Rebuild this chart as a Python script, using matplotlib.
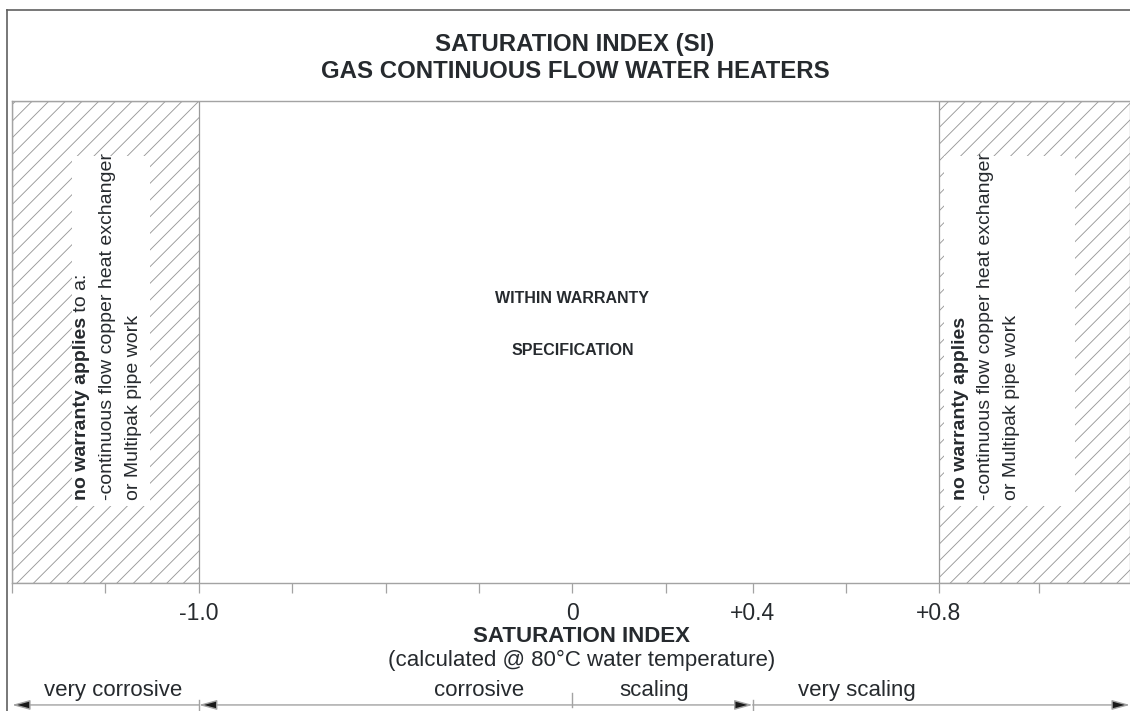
import numpy as np
import matplotlib
matplotlib.use('Agg')
import matplotlib.pyplot as plt
from matplotlib.patches import Rectangle
from matplotlib.lines import Line2D

plt.rcParams['font.family'] = ['Liberation Sans', 'DejaVu Sans']
plt.rcParams['hatch.linewidth'] = 0.65

# saturation index ticks along the axis
tick_values = [-1.5, -1.25, -1.0, -0.75, -0.5, -0.25, 0.0, 0.2, 0.4, 0.6, 0.8, 1.0]
tick_labels = ['', '', '-1.0', '', '', '', '0', '', '+0.4', '', '+0.8', '']
si_min, si_max = -1.5, 1.18

# no warranty bands
band_low = (-1.5, -1.0)
band_high = (0.8, 1.18)

# zones along the bottom
zone_names = ['very corrosive', 'corrosive', 'scaling', 'very scaling']
zone_centers = [-1.23, -0.25, 0.175, 0.625]

# the drawing is schematic, not to scale: piecewise linear axis
si_bp = [-1.5, -1.0, 0.0, 0.2, 0.4, 0.8, 1.0, 1.18]
pos_bp = [0.0, 2.0, 6.0, 7.0, 7.93, 9.92, 11.0, 11.97]

def fwd(x):
    return np.interp(x, si_bp, pos_bp)

def inv(x):
    return np.interp(x, pos_bp, si_bp)

line_c = '#a3a3a3'
text_c = '#262a2e'

fig = plt.figure(figsize=(11.3, 7.11), dpi=100)
ax = fig.add_axes([12/1130, 1-583/711, 1118/1130, 482/711])
ax.set_xscale('function', functions=(fwd, inv))
ax.set_xlim(si_min, si_max)
ax.set_ylim(0, 1)

for s in ['top', 'bottom', 'left']:
    ax.spines[s].set_color(line_c)
    ax.spines[s].set_linewidth(1.0)
ax.spines['right'].set_visible(False)
ax.set_yticks([])
ax.set_xticks(tick_values)
ax.set_xticklabels(tick_labels)
ax.tick_params(axis='x', direction='out', length=7.5, width=0.9, color=line_c,
               labelsize=16.5, labelcolor=text_c, pad=6)

# hatched no-warranty bands
for lo, hi in [band_low, band_high]:
    ax.axvspan(lo, hi, facecolor='none', edgecolor='#9a9a9a', hatch='//', linewidth=0.9)

xt = ax.get_xaxis_transform()

# white boxes behind the rotated notes
ax.add_patch(Rectangle((-1.34, 0.16), 0.21, 0.725, transform=xt,
                       facecolor='white', edgecolor='none', zorder=2))
ax.add_patch(Rectangle((0.81, 0.16), 0.26, 0.725, transform=xt,
                       facecolor='white', edgecolor='none', zorder=2))

note_lines = ['-continuous flow copper heat exchanger', 'or Multipak pipe work']
fs_note = 14

def note(x0, dx, bold_tail):
    t = ax.text(x0, 0.172, 'no warranty applies', transform=xt, rotation=90,
                rotation_mode='anchor', ha='left', va='center', fontsize=fs_note,
                fontweight='bold', color=text_c, zorder=3)
    if bold_tail:
        ax.annotate(' to a:', xy=(0.5, 1.0), xycoords=t, rotation=90,
                    ha='center', va='bottom', fontsize=fs_note, color=text_c, zorder=3)
    for i, s in enumerate(note_lines):
        ax.text(x0 + dx*(i+1), 0.172, s, transform=xt, rotation=90,
                rotation_mode='anchor', ha='left', va='center', fontsize=fs_note,
                color=text_c, zorder=3)

note(-1.314, 0.07, True)
note(0.843, 0.051, False)

# centre text
ax.text(0.0, 0.591, 'WITHIN WARRANTY', transform=xt, ha='center', va='center',
        fontsize=11.5, fontweight='bold', color=text_c)
ax.text(0.0, 0.483, 'SPECIFICATION', transform=xt, ha='center', va='center',
        fontsize=11.5, fontweight='bold', color=text_c)

# axis title below
ax.text(0.02, -0.112, 'SATURATION INDEX', transform=xt, ha='center', va='center',
        fontsize=16, fontweight='bold', color=text_c, clip_on=False)
ax.text(0.02, -0.16, '(calculated @ 80°C water temperature)', transform=xt,
        ha='center', va='center', fontsize=16, color=text_c, clip_on=False)

# zone labels and arrows
for name, c in zip(zone_names, zone_centers):
    ax.text(c, -0.222, name, transform=xt, ha='center', va='center',
            fontsize=16, color=text_c, clip_on=False)

ay = -0.253
hs = 'head_length=1.1,head_width=0.3'
ap = dict(arrowstyle='-|>,' + hs, edgecolor=line_c, facecolor='#1a1a1a', lw=1.0,
          shrinkA=0, shrinkB=0)
ax.annotate('', xy=(si_min, ay), xytext=(-1.0, ay), xycoords=xt, textcoords=xt,
            arrowprops=ap, annotation_clip=False)
ax.annotate('', xy=(-1.0, ay), xytext=(0.4, ay), xycoords=xt, textcoords=xt,
            arrowprops=dict(ap, arrowstyle='<|-|>,' + hs), annotation_clip=False)
ax.annotate('', xy=(si_max, ay), xytext=(0.4, ay), xycoords=xt, textcoords=xt,
            arrowprops=ap, annotation_clip=False)
for b, y0, y1 in [(-1.0, -0.243, -0.27), (0.0, -0.228, -0.258), (0.4, -0.243, -0.27)]:
    ax.plot([b, b], [y0, y1], transform=xt, color=line_c, lw=1.0, clip_on=False)

# title and outer frame
fig.text(575/1130, 1-44/711, 'SATURATION INDEX (SI)', ha='center', va='center',
         fontsize=17.3, fontweight='bold', color=text_c)
fig.text(575/1130, 1-71/711, 'GAS CONTINUOUS FLOW WATER HEATERS', ha='center',
         va='center', fontsize=17.3, fontweight='bold', color=text_c)
fig.add_artist(Line2D([7/1130, 7/1130], [0, 1-10/711], color='#606060', lw=1.2))
fig.add_artist(Line2D([7/1130, 1], [1-10/711, 1-10/711], color='#606060', lw=1.2))

fig.savefig('out.png', dpi=100)
